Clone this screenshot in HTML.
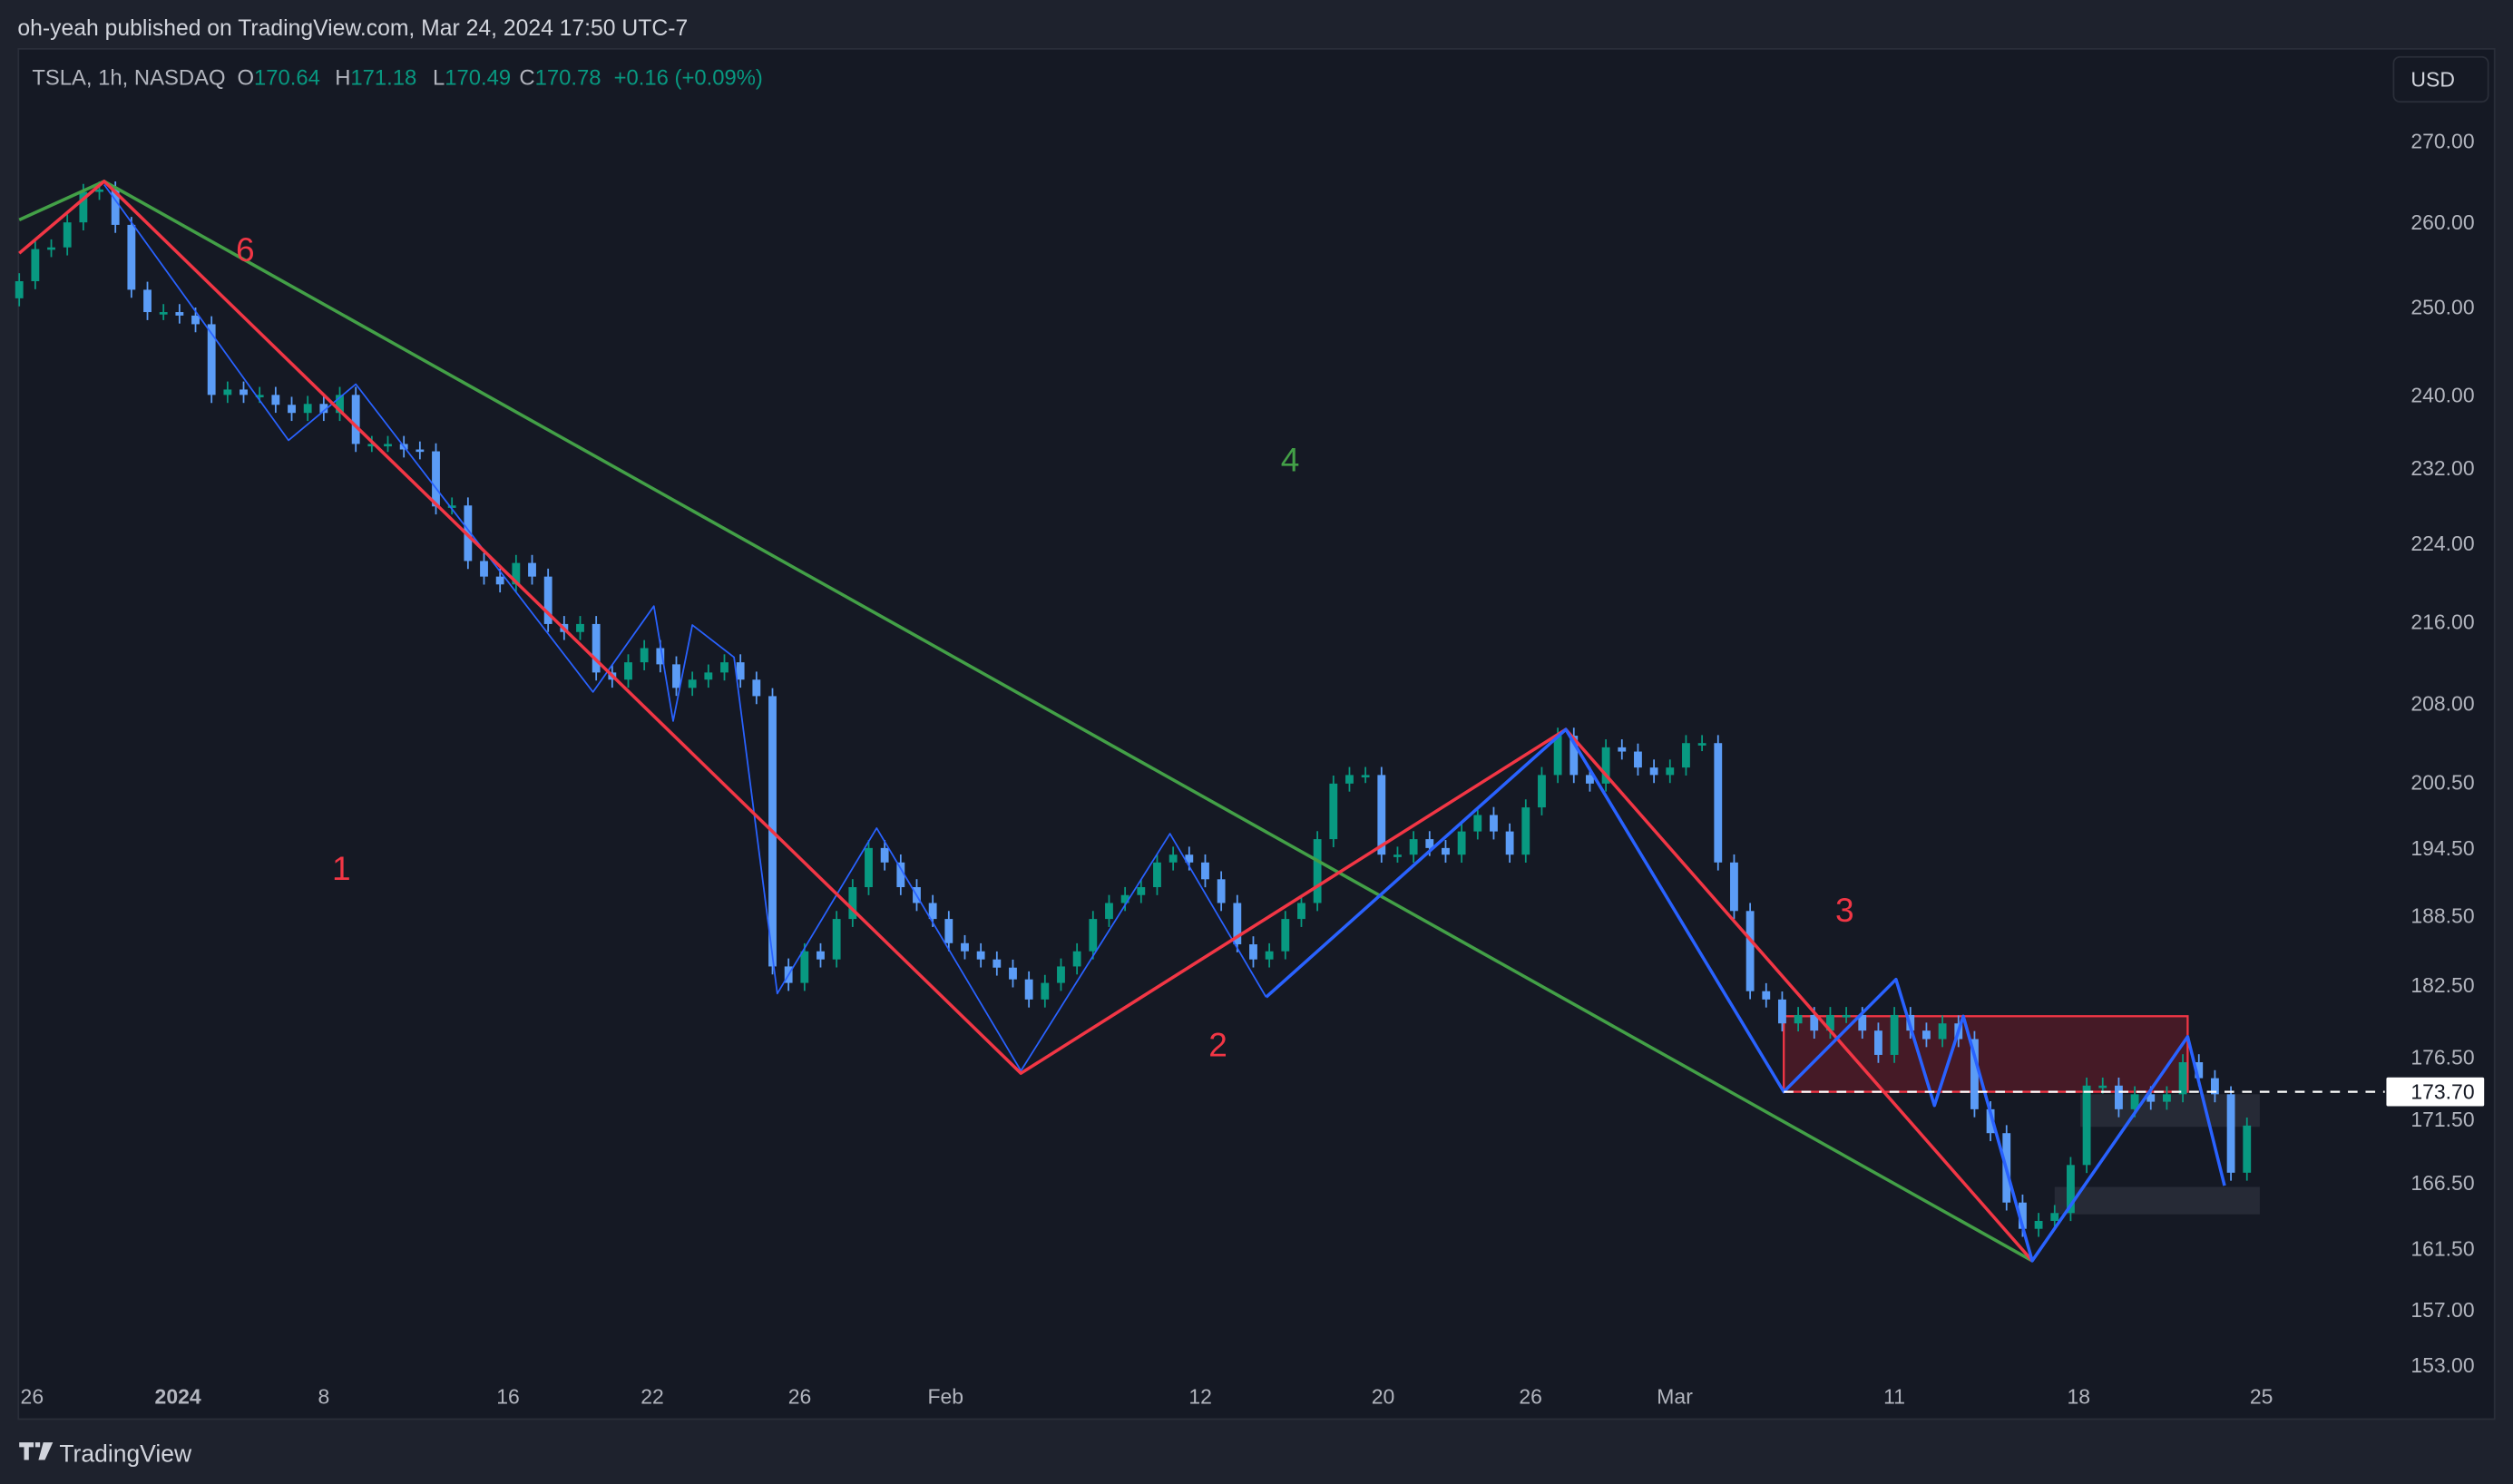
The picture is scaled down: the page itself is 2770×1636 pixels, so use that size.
<!DOCTYPE html>
<html><head><meta charset="utf-8">
<style>
html,body{margin:0;padding:0;background:#1e222d;}
svg{display:block;}
text{font-family:"Liberation Sans",sans-serif;}
</style></head>
<body>
<svg id="chart" width="2770" height="1636" viewBox="0 0 1568 926" preserveAspectRatio="none" xmlns="http://www.w3.org/2000/svg">
  <rect x="0" y="0" width="1568" height="926" fill="#1e222d"/>
  <text x="11" y="22" font-size="14" fill="#d1d4dc">oh-yeah published on TradingView.com, Mar 24, 2024 17:50 UTC-7</text>
  <rect x="11.5" y="30.5" width="1545" height="855" fill="#151924" stroke="#2a2e39"/>
  <g id="marks"></g>
  <g font-size="13.5">
    <text x="20" y="53" fill="#b2b5be">TSLA, 1h, NASDAQ</text>
    <text x="148" y="53" fill="#b2b5be">O<tspan fill="#089981">170.64</tspan></text>
    <text x="209" y="53" fill="#b2b5be">H<tspan fill="#089981">171.18</tspan></text>
    <text x="270" y="53" fill="#b2b5be">L<tspan fill="#089981">170.49</tspan></text>
    <text x="324" y="53" fill="#b2b5be">C<tspan fill="#089981">170.78</tspan></text>
    <text x="383" y="53" fill="#089981">+0.16 (+0.09%)</text>
  </g>
  <rect x="1493.5" y="35.5" width="59" height="28" rx="4" fill="#151924" stroke="#2a2e39"/>
  <text x="1518" y="54" font-size="13" fill="#d1d4dc" text-anchor="middle">USD</text>
  <g id="yaxis"></g>
  <g id="xaxis"></g>
  <g>
    <path d="M12 900 h9 v3 h-3 v8 h-3 v-8 h-3z M22 900 h3 v3 h-3z M27 900 h6 l-5 11 h-4z" fill="#d1d4dc"/>
    <text x="37" y="912" font-size="15" fill="#d1d4dc">TradingView</text>
  </g>
</svg>
<script>
// ---- data ----
const closes = [253,256.8,257,260,263.7,264,259.7,252,249.4,249.4,249,248,240,240.6,240,240,238.9,238,239,238,240,234.6,234.6,234.6,234,233.8,227.9,228,222.2,220.6,219.8,222,220.6,215.8,215,215.8,211,210.3,212,213.4,211.8,209.5,210.3,211,212,210.3,208.7,184.1,182.7,185.4,184.7,188.2,191,194.5,193.2,191,189.6,188.2,186.1,185.4,184.7,184,183,181.3,182.7,184.1,185.4,188.2,189.6,190.3,191,193.2,193.9,193.2,191.7,189.6,186,184.7,185.4,188.2,189.6,195.3,200.4,201.2,201.2,193.9,193.9,195.3,194.5,193.9,196,197.5,196,193.9,198.2,201.2,204.9,201.2,200.4,203.8,203.4,201.9,201.2,201.9,204.2,204.2,193.2,188.9,182,181.3,179.3,180,178.7,180,180,178.7,176.7,180,178.7,178,179.3,178,172.3,170.4,165,163,163.6,164.2,167.9,174.2,174.2,172.3,173.5,172.9,173.5,176.1,174.8,173.5,167.3,171];
const firstOpen = 251;
const priceTicks = [270,260,250,240,232,224,216,208,200.5,194.5,188.5,182.5,176.5,171.5,166.5,161.5,157,153];
const dateLabels = ["26","2024","8","16","22","26","Feb","12","20","26","Mar","11","18","25"];
const dateBars = [0.8,9.9,19,30.5,39.5,48.7,57.8,73.7,85.1,94.3,103.3,117,128.5,139.9];
const redPath = [[0,256.3],[5.3,265.0],[62.5,175.2],[96.5,205.5],[125.6,160.6]];
const greenPath = [[0,260.3],[5.3,265.0],[125.6,160.6]];
const thinBluePath = [[5.3,264.6],[16.8,235.0],[21,241.2],[35.8,209.1],[39.6,217.6],[40.8,206.3],[42,215.7],[44.6,212.5],[47.3,181.8],[53.5,196.3],[62.5,175.4],[71.8,195.8],[77.8,181.5]];
const thickBluePath = [[77.8,181.5],[96.5,205.5],[110.1,173.7],[117.1,183.0],[119.5,172.6],[121.3,179.9],[125.6,160.6],[135.3,178.2],[137.6,166.3]];
const supplyZone = [110.1,135.3,173.7,179.9];
const grayZones = [[128.6,139.8,170.9,173.5],[127,139.8,164.1,166.2]];
const lastPrice = 173.70;

// ---- scales ----
function y(p){ return 88 + (Math.log(270) - Math.log(p)) * 1345; }
function x(i){ return 12 + i * 10; }
const NS = "http://www.w3.org/2000/svg";
function mk(tag, attrs, parent){ const e=document.createElementNS(NS,tag); for(const k in attrs) e.setAttribute(k,attrs[k]); parent.appendChild(e); return e; }
const marks = document.getElementById('marks');
const yaxis = document.getElementById('yaxis');
const xaxis = document.getElementById('xaxis');

// zones
const zb = mk('rect',{x:x(supplyZone[0]),y:y(supplyZone[3]),width:x(supplyZone[1])-x(supplyZone[0]),height:y(supplyZone[2])-y(supplyZone[3]),fill:'rgba(110,28,40,0.55)',stroke:'#f23645','stroke-width':1.3},marks);


grayZones.forEach((g,k)=>{
  const r = mk('rect',{x:x(g[0]),y:y(g[3]),width:x(g[1])-x(g[0]),height:y(g[2])-y(g[3]),fill:'rgba(60,64,78,0.45)'},marks);
  
  
});

// candles
let prev = firstOpen;
closes.forEach((c,i)=>{
  const o = prev; prev = c;
  const up = c >= o;
  const col = up ? '#089981' : '#5b9cf6';
  const hi = Math.max(o,c), lo = Math.min(o,c);
  const g = mk('g',{},marks);
  
  
  mk('line',{x1:x(i),x2:x(i),y1:y(hi)-5,y2:y(lo)+5,stroke:col,'stroke-width':1},g);
  mk('rect',{x:x(i)-2.5,y:y(hi),width:5,height:Math.max(1.5,y(lo)-y(hi)),fill:col},g);
});

function poly(pts,color,w,name){
  const p = mk('polyline',{points:pts.map(q=>x(q[0])+','+y(q[1])).join(' '),fill:'none',stroke:color,'stroke-width':w,'stroke-linejoin':'round'},marks);
  
  
}
poly(greenPath,'#43a047',2,'green-trendline');
poly(thinBluePath,'#2962ff',1,'thin-blue-zigzag');
poly(redPath,'#f23645',2,'red-trendline');
poly(thickBluePath,'#2962ff',2,'thick-blue-zigzag');

// last price line
const lp = mk('line',{x1:x(supplyZone[0]),x2:1488,y1:y(lastPrice),y2:y(lastPrice),stroke:'#ffffff','stroke-width':1.3,'stroke-dasharray':'6 5'},marks);



// wave labels
[["6",153,163,'#f23645'],["4",805,294,'#43a047'],["1",213,549,'#f23645'],["2",760,659,'#f23645'],["3",1151,575,'#f23645']].forEach(l=>{
  const t = mk('text',{x:l[1],y:l[2],'font-size':21,fill:l[3],'text-anchor':'middle'},marks);
  t.textContent = l[0];
  
  
});

// y axis
priceTicks.forEach(p=>{
  const t = mk('text',{x:1544,y:y(p)+4.5,'font-size':13,fill:'#b2b5be','text-anchor':'end'},yaxis);
  t.textContent = p.toFixed(2);
  
  
});
const lb = mk('rect',{x:1489,y:y(lastPrice)-9,width:61,height:18,fill:'#ffffff',rx:1},yaxis);


const lt = mk('text',{x:1544,y:y(lastPrice)+4.5,'font-size':13,fill:'#131722','text-anchor':'end'},yaxis);
lt.textContent = lastPrice.toFixed(2);



// x axis
dateLabels.forEach((d,k)=>{
  const t = mk('text',{x:x(dateBars[k]),y:876,'font-size':13,fill:'#b2b5be','text-anchor':'middle','font-weight':d==='2024'?'bold':'normal'},xaxis);
  t.textContent = d;
  
  
});
</script>
</body></html>
